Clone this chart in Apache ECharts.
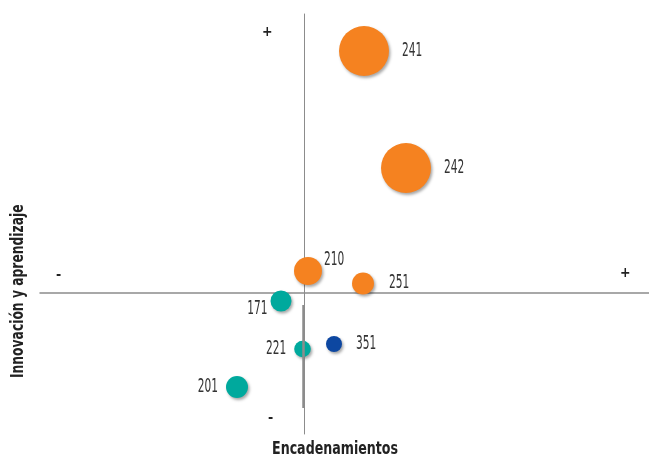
<!DOCTYPE html>
<html>
<head>
<meta charset="utf-8">
<style>
  html, body { margin: 0; padding: 0; background: #ffffff; }
  #chart { width: 649px; height: 459px; }
</style>
<script src="https://cdn.jsdelivr.net/npm/echarts@6/dist/echarts.min.js"></script>
</head>
<body>
<div id="chart"></div>
<script>
// Sector codes and their quadrant scores
const codigos = ['241', '242', '210', '251', '171', '221', '351', '201'];
const encadenamientos = [0.60, 1.02, 0.04, 0.59, -0.23, -0.015, 0.30, -0.67];
const innovacion = [2.42, 1.25, 0.22, 0.095, -0.08, -0.56, -0.51, -0.94];
const pesos = [62.5, 62.5, 19.6, 12.1, 11.0, 6.9, 6.4, 12.1];
const grupos = ['A', 'A', 'A', 'A', 'B', 'B', 'C', 'B'];

const coloresGrupo = { A: '#F58220', B: '#00A99D', C: '#0D47A1' };
const fuente = '"DejaVu Sans Condensed", "Liberation Sans", sans-serif';
const condensado = 0.62;

// Label placement around each bubble: side, gap from the edge, vertical shift
const etiquetas = {
  '241': { side: 'right', gap: 13, dy: 0 },
  '242': { side: 'right', gap: 13, dy: 0 },
  '210': { side: 'right', gap: 2, dy: -11 },
  '251': { side: 'right', gap: 15, dy: 0 },
  '171': { side: 'left', gap: 3, dy: 8 },
  '221': { side: 'left', gap: 8, dy: 0 },
  '351': { side: 'right', gap: 14, dy: 0 },
  '201': { side: 'left', gap: 8, dy: 0 }
};

const tamano = p => 2 * Math.sqrt(p * 10);

const datos = codigos.map((c, i) => ({
  name: c,
  value: [encadenamientos[i], innovacion[i], pesos[i]],
  itemStyle: { color: coloresGrupo[grupos[i]] }
}));

const chart = echarts.init(document.getElementById('chart'), null, { renderer: 'canvas' });

chart.setOption({
  animation: false,
  grid: { left: 40, right: 0, top: 14, bottom: 25 },
  xAxis: {
    type: 'value', min: -2.64, max: 3.45,
    axisLine: { onZero: true, lineStyle: { color: '#8c8c8c', width: 1.5 } },
    axisTick: { show: false }, axisLabel: { show: false }, splitLine: { show: false }
  },
  yAxis: {
    type: 'value', min: -1.41, max: 2.79,
    axisLine: { onZero: true, lineStyle: { color: '#8c8c8c', width: 1 } },
    axisTick: { show: false }, axisLabel: { show: false }, splitLine: { show: false }
  },
  series: [{
    type: 'scatter',
    data: datos,
    symbolSize: v => tamano(v[2]),
    itemStyle: {
      opacity: 1,
      shadowBlur: 3, shadowOffsetX: 1.5, shadowOffsetY: 2,
      shadowColor: 'rgba(0,0,0,0.35)'
    },
    markLine: {
      silent: true, symbol: 'none',
      lineStyle: { color: '#8c8c8c', width: 2.5, type: 'solid' },
      label: { show: false },
      data: [[{ coord: [-0.012, -0.12] }, { coord: [-0.012, -1.15] }]]
    },
    z: 3
  }, {
    // condensed value labels next to each bubble
    type: 'custom',
    silent: true,
    data: codigos.map((c, i) => [encadenamientos[i], innovacion[i], pesos[i], c]),
    renderItem: (params, api) => {
      const p = api.coord([api.value(0), api.value(1)]);
      const r = tamano(api.value(2)) / 2;
      const c = codigos[params.dataIndex];
      const e = etiquetas[c];
      const derecha = e.side === 'right';
      return {
        type: 'text',
        x: derecha ? p[0] + r + e.gap : p[0] - r - e.gap,
        y: p[1] + e.dy,
        scaleX: condensado,
        style: {
          text: c, fill: '#333333',
          font: '19px ' + fuente,
          align: derecha ? 'left' : 'right',
          verticalAlign: 'middle'
        }
      };
    },
    z: 4
  }],
  graphic: [
    { type: 'text', left: 262, top: 25, style: { text: '+', font: 'bold 14px ' + fuente, fill: '#222' } },
    { type: 'text', left: 620, top: 266, style: { text: '+', font: 'bold 14px ' + fuente, fill: '#222' } },
    { type: 'text', left: 56, top: 268, style: { text: '-', font: 'bold 14px ' + fuente, fill: '#222' } },
    { type: 'text', left: 268, top: 411, style: { text: '-', font: 'bold 14px ' + fuente, fill: '#222' } },
    { type: 'text', x: 272, y: 440, scaleX: 0.78,
      style: { text: 'Encadenamientos', font: 'bold 18px ' + fuente, fill: '#222', verticalAlign: 'top' } },
    { type: 'text', x: 9, y: 378, rotation: Math.PI / 2, scaleX: 0.76,
      style: { text: 'Innovación y aprendizaje', font: 'bold 18px ' + fuente, fill: '#222', verticalAlign: 'top' } }
  ]
});
</script>
</body>
</html>
